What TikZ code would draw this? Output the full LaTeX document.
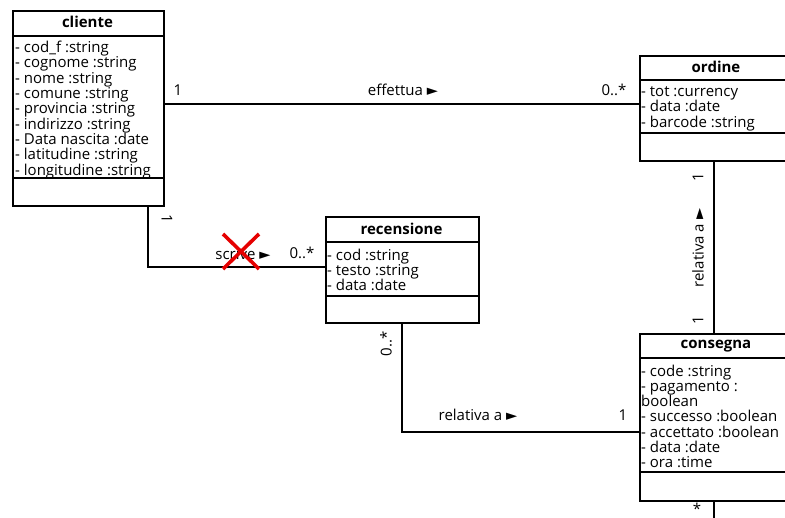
\documentclass[tikz,border=0pt]{standalone}
\usepackage{fontspec}
\setmainfont{Open Sans}
\newfontfamily\symf{DejaVu Sans}
\newcommand{\tri}{{\symf\fontsize{14.5}{15}\selectfont ►}}
\begin{document}
\begin{tikzpicture}[x=1pt,y=1pt,
  classbox/.style={draw=black, line width=2.2pt, fill=white, inner sep=0pt, anchor=north west},
  sep/.style={line width=1.7pt},
  title/.style={font=\fontsize{15}{15.3}\selectfont\bfseries, inner sep=0pt},
  attrs/.style={font=\fontsize{15}{15.3}\selectfont, align=left, anchor=north west, inner sep=0pt},
  conn/.style={line width=2.5pt},
  lab/.style={font=\fontsize{15}{15.3}\selectfont, inner sep=0pt},
  cross/.style={draw=red!90!black, line width=3.6pt}
]
\useasboundingbox (0,0) rectangle (785,-518);
% cliente
\node[classbox, minimum width=151pt, minimum height=195pt] (cliente) at (12,-10) {};
\draw[sep] (12,-36) -- (163,-36);
\draw[sep] (12,-178) -- (163,-178);
\node[title] (clienteT) at (87.5,-22) {cliente};
\node[attrs] (clienteA) at (15,-41) {- cod\_f :string\\- cognome :string\\- nome :string\\- comune :string\\- provincia :string\\- indirizzo :string\\- Data nascita :date\\- latitudine :string\\- longitudine :string};
% ordine
\node[classbox, minimum width=160pt, minimum height=105pt] (ordine) at (639,-55) {};
\draw[sep] (639,-80) -- (799,-80);
\draw[sep] (639,-133) -- (799,-133);
\node[title] (ordineT) at (716,-67) {ordine};
\node[attrs] (ordineA) at (641,-86.5) {- tot :currency\\- data :date\\- barcode :string};
% recensione
\node[classbox, minimum width=153pt, minimum height=106pt] (recensione) at (325,-216) {};
\draw[sep] (325,-242) -- (478,-242);
\draw[sep] (325,-296) -- (478,-296);
\node[title] (recensioneT) at (401.5,-229) {recensione};
\node[attrs] (recensioneA) at (327,-248.5) {- cod :string\\- testo :string\\- data :date};
% consegna
\node[classbox, minimum width=160pt, minimum height=167pt] (consegna) at (639,-333) {};
\draw[sep] (639,-358) -- (799,-358);
\draw[sep] (639,-472) -- (799,-472);
\node[title] (consegnaT) at (716,-346) {consegna};
\node[attrs] (consegnaA) at (641,-364.5) {- code :string\\- pagamento :\\boolean\\- successo :boolean\\- accettato :boolean\\- data :date\\- ora :time};
\coordinate (bottomEnd) at (714,-530);
% cliente - ordine
\draw[conn] (cliente.north east |- 0,-104) -- (ordine.north west |- 0,-104);
\node[lab] (l1) at (178,-90) {1};
\node[lab] (l2) at (403,-90) {effettua \tri};
\node[lab] (l3) at (614,-90) {0..*};
% cliente - recensione
\draw[conn] (cliente.south west -| 148,0) -- (148,-267) -- (recensione.north west |- 0,-267);
\node[lab, rotate=-90] (l4) at (167,-219) {1};
\node[lab] (l5) at (243,-254) {scrive \tri};
\node[lab] (l6) at (302,-253) {0..*};
\draw[cross] (223,-234) -- (259,-269);
\draw[cross] (259,-234) -- (223,-269);
% ordine - consegna
\draw[conn] (ordine.south west -| 714,0) -- (consegna.north west -| 714,0);
\node[lab, rotate=90] (l7) at (698,-177) {1};
\node[lab, rotate=90] (l8) at (698,-248) {relativa a \tri};
\node[lab, rotate=90] (l9) at (698,-320) {1};
% recensione - consegna
\draw[conn] (recensione.south west -| 402,0) -- (402,-432) -- (consegna.north west |- 0,-432);
\node[lab, rotate=90] (l10) at (386,-344) {0..*};
\node[lab] (l11) at (478,-415) {relativa a \tri};
\node[lab] (l12) at (623,-415) {1};
% consegna bottom
\draw[conn] (consegna.south west -| 714,0) -- (bottomEnd);
\node[lab] (l13) at (697,-509) {*};
\end{tikzpicture}
\end{document}
